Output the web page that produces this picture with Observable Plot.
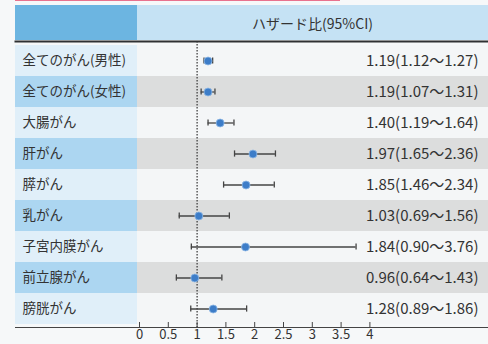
<!DOCTYPE html>
<html><head><meta charset="utf-8">
<script src="https://cdn.jsdelivr.net/npm/d3@7"></script>
<script src="https://cdn.jsdelivr.net/npm/@observablehq/plot@0.6"></script>
<style>
html,body{margin:0;padding:0;background:#f6f8f9;width:488px;height:344px;overflow:hidden;font-family:"Noto Sans CJK JP","Noto Sans",sans-serif;}
#top{height:5px;position:relative;}
#top .pink{position:absolute;left:15px;top:0;width:325px;height:0;border-top:1.5px solid #e8728e;}
#head{height:35px;display:flex;}
#head .pad{width:15px;}
#head .l{width:122px;background:#6cb5e1;}
#head .r{flex:1;background:#c5e2f4;color:#333;font-size:14px;display:flex;align-items:center;justify-content:center;padding-right:0px;}
#chart svg{display:block;}
</style></head>
<body>
<div id="top"><div class="pink"></div></div>
<div id="head"><div class="pad"></div><div class="l"></div><div class="r" id="htitle"></div></div>
<div id="chart"></div>
<script>
const headerTitle = "ハザード比(95%CI)";
const cancers = ["全てのがん(男性)","全てのがん(女性)","大腸がん","肝がん","膵がん","乳がん","子宮内膜がん","前立腺がん","膀胱がん"];
const hr    = [1.19, 1.19, 1.40, 1.97, 1.85, 1.03, 1.84, 0.96, 1.28];
const lower = [1.12, 1.07, 1.19, 1.65, 1.46, 0.69, 0.90, 0.64, 0.89];
const upper = [1.27, 1.31, 1.64, 2.36, 2.34, 1.56, 3.76, 1.43, 1.86];
const ciLabels = ["1.19(1.12〜1.27)","1.19(1.07〜1.31)","1.40(1.19〜1.64)","1.97(1.65〜2.36)","1.85(1.46〜2.34)","1.03(0.69〜1.56)","1.84(0.90〜3.76)","0.96(0.64〜1.43)","1.28(0.89〜1.86)"];
const tickVals = [0, 0.5, 1, 1.5, 2, 2.5, 3, 3.5, 4];

document.getElementById("htitle").textContent = headerTitle;

const rows = cancers.map((name, i) => ({name, i, hr: hr[i], lo: lower[i], hi: upper[i], label: ciLabels[i]}));

// layout: 0 -> x=139px, 57.6 px per unit; plot spans x 15..488
const W = 488, ML = 15, MR = 0, zeroPx = 139, pxPerUnit = 57.6;
const xLo = (ML - zeroPx) / pxPerUnit;
const xHi = (W - MR - zeroPx) / pxPerUnit;
const colEnd = -2 / pxPerUnit;
const H = 304, MT = 1, MB = 17;

const chart = Plot.plot({
  width: W, height: H,
  marginLeft: ML, marginRight: MR, marginTop: MT, marginBottom: MB,
  x: {domain: [xLo, xHi], axis: null},
  y: {domain: cancers, padding: 0, axis: null},
  style: {fontFamily: '"Noto Sans CJK JP","Noto Sans",sans-serif', background: "transparent", color: "#333"},
  marks: [
    Plot.barX(rows, {y: "name", x1: () => xLo, x2: () => xHi, fill: d => d.i % 2 ? "#dcdddd" : "#f4f6f7"}),
    Plot.barX(rows, {y: "name", x1: () => xLo, x2: () => colEnd, fill: d => d.i % 2 ? "#acd6f1" : "#e0eff9"}),
    Plot.ruleX([1], {x: d => d, stroke: "#333", strokeWidth: 1.2, strokeDasharray: "1.5,1.5"}),
    Plot.frame({anchor: "top", stroke: "#2f3133", strokeWidth: 2}),
    Plot.frame({anchor: "bottom", stroke: "#444", strokeWidth: 1}),
    Plot.ruleX(tickVals, {x: d => d, insetTop: H - MT - MB - 5, stroke: "#444"}),
    Plot.axisX({ticks: tickVals, tickSize: 0, tickPadding: 2, tickFormat: d => String(d), fontSize: 13, fill: "#333"}),
    Plot.ruleY(rows, {y: "name", x1: "lo", x2: "hi", stroke: "#444", strokeWidth: 1.3}),
    Plot.tickX(rows, {y: "name", x: "lo", stroke: "#444", strokeWidth: 1.3, insetTop: 12.4, insetBottom: 12.4}),
    Plot.tickX(rows, {y: "name", x: "hi", stroke: "#444", strokeWidth: 1.3, insetTop: 12.4, insetBottom: 12.4}),
    Plot.dot(rows, {y: "name", x: "hr", r: 4, fill: "#3d7dc8", stroke: "#8fb9e6", strokeWidth: 0.8}),
    Plot.text(rows, {y: "name", text: "name", frameAnchor: "left", dx: 7, textAnchor: "start", fontSize: 13.5, fill: "#333"}),
    Plot.text(rows, {y: "name", text: "label", frameAnchor: "right", dx: -10, textAnchor: "end", fontSize: 15, fill: "#333"})
  ]
});
document.getElementById("chart").append(chart);
</script>
</body></html>
